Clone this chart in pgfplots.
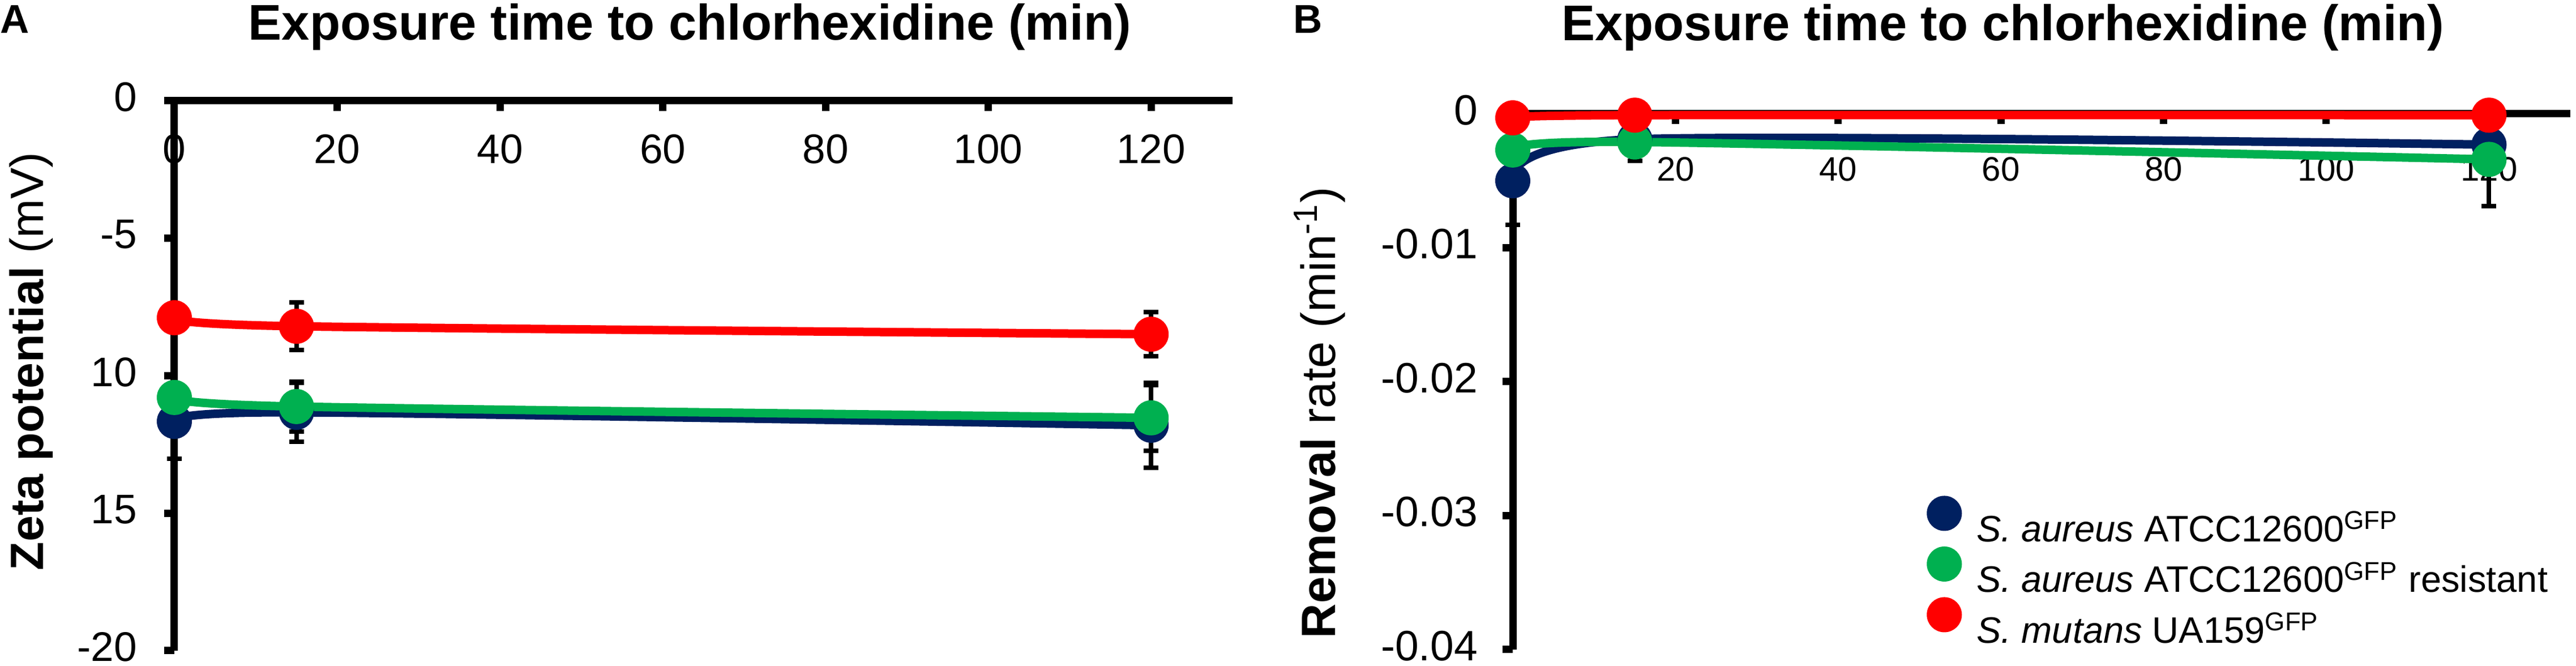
\documentclass[border=0pt]{standalone}
\usepackage{pgfplots}
\pgfplotsset{compat=1.18}
\usepackage{fontspec}
\setmainfont{Liberation Sans}
\definecolor{cblue}{HTML}{002060}
\definecolor{cgreen}{HTML}{00B050}
\definecolor{cred}{HTML}{FF0000}
\pgfplotsset{
 common/.style={
  scale only axis, clip=false,
  axis lines=middle,
  axis line style={-, line width=2.6pt, black},
  hide obscured x ticks=false, hide obscured y ticks=false,
  enlargelimits=false,
  scaled y ticks=false, scaled x ticks=false,
  xmin=0, xmax=130,
  xtick={0,20,40,60,80,100,120},
  xticklabels={0,20,40,60,80,100,120},
  tick align=center,
  major tick length=3.6pt,
  tick style={line width=2.6pt, black},
  xtick style={yshift=-1.8pt},
  ytick style={xshift=-1.8pt},
  tick label style={inner sep=0pt},
  xticklabel style={anchor=north},
  yticklabel style={anchor=east, yshift=1.3pt},
  error bars/error bar style={black, line width=1.6pt},
  error bars/error mark options={black, line width=1.6pt, mark size=2.6pt, rotate=90},
 },
 ser/.style={color=#1, line width=3pt, mark=*, mark size=6pt, smooth,
   mark options={solid, line width=0.4pt, draw=#1, fill=#1}},
}
\begin{document}
\begin{tikzpicture}
\path[use as bounding box] (0,0) rectangle (910pt,235.2pt);
\node[anchor=base west, inner sep=0pt, font=\bfseries\fontsize{14.2pt}{17pt}\selectfont] at (0pt,223.4pt) {A};
\node[anchor=base west, inner sep=0pt, font=\bfseries\fontsize{14.2pt}{17pt}\selectfont] at (456.6pt,223.4pt) {B};

\begin{axis}[common, at={(61.6pt,5.4pt)}, anchor=south west, width=373.8pt, height=194.2pt,
  ymin=-20, ymax=0, ytick={-20,-15,-10,-5,0}, yticklabels={-20,15,10,-5,0},
  xticklabel style={font=\fontsize{14.6pt}{17pt}\selectfont, yshift=-10pt},
  yticklabel style={font=\fontsize{14.6pt}{17pt}\selectfont, xshift=-11.2pt},
  every axis x label/.style={at={(axis description cs:0.487,1.111)}, anchor=base, font=\bfseries\fontsize{17.7pt}{21pt}\selectfont},
  xlabel={Exposure time to chlorhexidine (min)},
  every axis y label/.style={at={(axis description cs:-0.1236,0.526)}, anchor=base, rotate=90, font=\fontsize{16.5pt}{20pt}\selectfont},
  ylabel={\textbf{Zeta potential} (mV)},
]
\addplot[ser=cblue, error bars/.cd, y dir=both, y explicit] coordinates {
  (0,-11.66) +- (0,1.35)
  (15,-11.33) +- (0,1.07)
  (120,-11.80) +- (0,1.55)
};
\addplot[ser=cgreen, error bars/.cd, y dir=both, y explicit] coordinates {
  (0,-10.79) +- (0,0.5)
  (15,-11.12) +- (0,0.9)
  (120,-11.53) +- (0,1.19)
};
\addplot[ser=cred, error bars/.cd, y dir=both, y explicit] coordinates {
  (0,-7.89) +- (0,0.3)
  (15,-8.20) +- (0,0.86)
  (120,-8.49) +- (0,0.8)
};
\end{axis}

\begin{axis}[common, at={(534.4pt,5.8pt)}, anchor=south west, width=373.6pt, height=189.2pt,
  ymin=-0.04, ymax=0, ytick={-0.04,-0.03,-0.02,-0.01,0}, yticklabels={-0.04,-0.03,-0.02,-0.01,0},
  xticklabel style={font=\fontsize{12pt}{14pt}\selectfont, yshift=-13.4pt},
  yticklabel style={font=\fontsize{15pt}{18pt}\selectfont, xshift=-10.4pt},
  every axis x label/.style={at={(axis description cs:0.4636,1.1374)}, anchor=base, font=\bfseries\fontsize{17.7pt}{21pt}\selectfont},
  xlabel={Exposure time to chlorhexidine (min)},
  every axis y label/.style={at={(axis description cs:-0.168,0.442)}, anchor=base, rotate=90, font=\fontsize{17pt}{20pt}\selectfont},
  ylabel={\textbf{Removal} rate (min\textsuperscript{-1})},
  legend style={at={(axis description cs:0.392,0.286)}, anchor=north west, draw=none, fill=none, inner sep=0pt, outer sep=0pt, row sep=-1.1pt, column sep=5.4pt, font=\fontsize{13pt}{15pt}\selectfont, nodes={inner sep=0pt, text height=12pt, text depth=3pt}},
  legend cell align=left,
  legend image code/.code={\draw[only marks, yshift=5.5pt] plot coordinates {(0pt,0pt)};},
]
\addplot[ser=cblue, error bars/.cd, y dir=both, y explicit] coordinates {
  (0,-0.0050) +- (0,0.0033)
  (15,-0.0019) +- (0,0.0016)
  (120,-0.0023) +- (0,0.0005)
};
\addlegendentry{\textit{S. aureus} ATCC12600\textsuperscript{GFP}}
\addplot[ser=cgreen, error bars/.cd, y dir=both, y explicit] coordinates {
  (0,-0.0027) +- (0,0.0005)
  (15,-0.0021) +- (0,0.0005)
  (120,-0.0034) +- (0,0.0035)
};
\addlegendentry{\textit{S. aureus} ATCC12600\textsuperscript{GFP} resistant}
\addplot[ser=cred, error bars/.cd, y dir=both, y explicit] coordinates {
  (0,-0.0003) +- (0,0.0001)
  (15,-0.0001) +- (0,0.0001)
  (120,-0.0001) +- (0,0.0001)
};
\addlegendentry{\textit{S. mutans} UA159\textsuperscript{GFP}}
\end{axis}
\end{tikzpicture}
\end{document}
